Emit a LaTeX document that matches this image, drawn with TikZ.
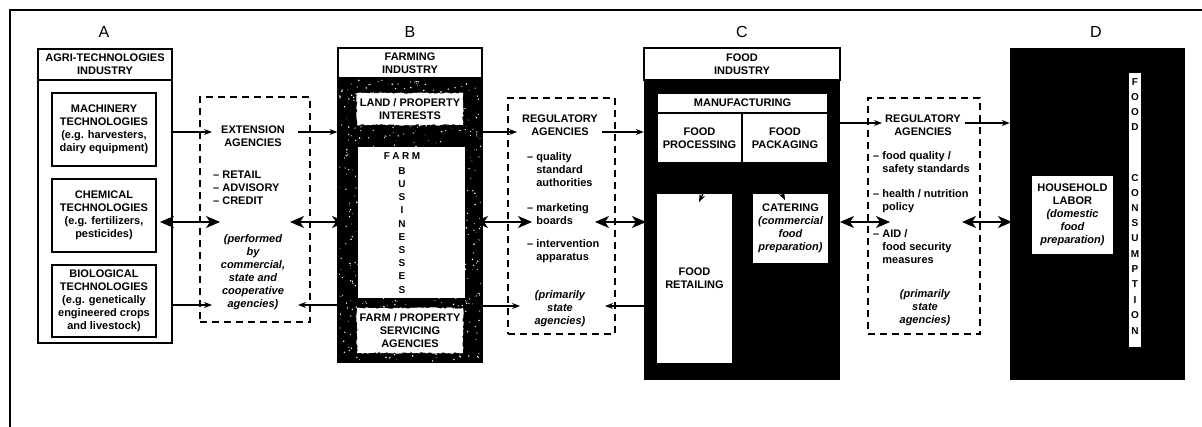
\documentclass[tikz,border=0pt]{standalone}
\usepackage{fontspec}
\setmainfont{Liberation Sans}
\usetikzlibrary{arrows.meta,decorations.pathmorphing,fit}
\begin{document}
\begin{tikzpicture}[x=1pt,y=-1pt,
  txt/.style={font=\fontsize{11}{13}\selectfont\bfseries, align=center, inner sep=0pt},
  itx/.style={font=\fontsize{11}{13}\selectfont\bfseries\itshape, align=center, inner sep=0pt},
  lst/.style={font=\fontsize{11}{13}\selectfont\bfseries, align=left, inner sep=0pt, anchor=west},
  vlet/.style={font=\fontsize{10}{10}\selectfont\bfseries, inner sep=0pt},
  letter/.style={font=\fontsize{16}{16}\selectfont, inner sep=0pt},
  wbox/.style={draw=black, fill=white, line width=1.1pt, inner sep=0pt},
  bbox/.style={fill=black, inner sep=0pt},
  dbox/.style={draw=black, dash pattern=on 7pt off 5pt, line width=1.3pt, inner sep=0pt},
  rough/.style={fill=white, decorate, decoration={random steps,segment length=2pt,amplitude=0.8pt}},
  sa/.style={line width=1.1pt, -{Stealth[length=8pt,width=6pt]}},
  da/.style={line width=1.1pt, {Stealth[length=14pt,width=12pt,inset=4pt]}-{Stealth[length=14pt,width=12pt,inset=4pt]}},
]
\useasboundingbox (0,0) rectangle (1202,427);
% outer frame
\coordinate (F1) at (10,427);
\coordinate (F2) at (10,10);
\coordinate (F3) at (1202,10);
\draw[line width=1.1pt] (F1) -- (F2) -- (F3);

% column letters
\node[letter] (LA) at (104,32) {A};
\node[letter] (LB) at (410,32) {B};
\node[letter] (LC) at (742,32) {C};
\node[letter] (LD) at (1096,32) {D};

% ---------- Column A
\node[wbox, fit={(38,49)(172,343)}] (Aout) {};
\node[wbox, fit={(38,49)(172,80)}] (Atit) {};
\node[txt] (AtitT) at (Atit.center) {AGRI-TECHNOLOGIES\\INDUSTRY};
\node[wbox, fit={(52,93)(156,166)}] (Amach) {};
\node[txt] (AmachT) at (Amach.center) {MACHINERY\\TECHNOLOGIES\\(e.g. harvesters,\\dairy equipment)};
\node[wbox, fit={(52,179)(156,252)}] (Achem) {};
\node[txt] (AchemT) at (Achem.center) {CHEMICAL\\TECHNOLOGIES\\(e.g. fertilizers,\\pesticides)};
\node[wbox, fit={(52,265)(156,337)}] (Abio) {};
\node[txt] (AbioT) at (Abio.center) {BIOLOGICAL\\TECHNOLOGIES\\(e.g. genetically\\engineered crops\\and livestock)};

% ---------- Column B
\node[wbox, fit={(338,48)(482,362)}] (Bout) {};
\fill[black] (338,78) rectangle (482,362);
\pgfmathsetseed{42}
\foreach \i in {1,...,700}{%
  \pgfmathsetmacro\sx{339+142*rnd}%
  \pgfmathsetmacro\sy{80+281*rnd}%
  \pgfmathsetmacro\sr{0.3+0.6*rnd}%
  \fill[white] (\sx,\sy) circle[radius=\sr pt];}
\node[wbox, fit={(338,48)(482,78)}] (Btit) {};
\node[txt] (BtitT) at (Btit.center) {FARMING\\INDUSTRY};
\fill[rough] (357,93) rectangle (463,125);
\node[txt] (Bland) at (410,109) {LAND / PROPERTY\\INTERESTS};
\node[fill=white, inner sep=0pt, fit={(358,147)(465,298)}] (Bfarm) {};
\node[vlet] (BfarmT) at (402,156) {F\hspace{2.5pt}A\hspace{2.5pt}R\hspace{2.5pt}M};
\foreach \l/\yy [count=\k] in {B/171,U/184,S/197,I/210,N/224,E/237,S/250,S/263,E/276,S/290}{
  \node[vlet] (Bv\k) at (402,\yy) {\l};}
\fill[rough] (357,308) rectangle (463,353);
\node[txt] (Bserv) at (410,330.5) {FARM / PROPERTY\\SERVICING\\AGENCIES};

% ---------- Column C
\node[bbox, fit={(644,48)(840,380)}] (Cout) {};
\node[wbox, fit={(644,48)(840,80)}] (Ctit) {};
\node[txt] (CtitT) at (Ctit.center) {FOOD\\INDUSTRY};
\node[wbox, fit={(657,93)(828,113)}] (Cman) {};
\node[txt] (CmanT) at (Cman.center) {MANUFACTURING};
\node[wbox, fit={(657,113)(742,163)}] (Cproc) {};
\node[txt] (CprocT) at (Cproc.center) {FOOD\\PROCESSING};
\node[wbox, fit={(742,113)(828,163)}] (Cpack) {};
\node[txt] (CpackT) at (Cpack.center) {FOOD\\PACKAGING};
\node[fill=white, inner sep=0pt, fit={(657,194)(732,363)}] (Cret) {};
\node[txt] (CretT) at (Cret.center) {FOOD\\RETAILING};
\node[fill=white, inner sep=0pt, fit={(753,194)(828,263)}] (Ccat) {};
\node[txt] (CcatT) at (Ccat.center) {CATERING\\\itshape(commercial\\\itshape food\\\itshape preparation)};
\coordinate (cp1) at (716,166);
\coordinate (cp2) at (699,202);
\coordinate (cq1) at (768,166);
\coordinate (cq2) at (785,200);
\draw[sa] (cp1) -- (cp2);
\draw[sa] (cq1) -- (cq2);

% ---------- Column D
\node[bbox, fit={(1010,48)(1185,380)}] (Dout) {};
\node[fill=white, inner sep=0pt, fit={(1032,176)(1113,254)}] (Dhh) {};
\node[txt] (DhhT) at (Dhh.center) {HOUSEHOLD\\LABOR\\\itshape(domestic\\\itshape food\\\itshape preparation)};
\node[fill=white, inner sep=0pt, fit={(1129,73)(1141,347)}] (Dcons) {};
\foreach \l/\yy [count=\k] in {F/82,O/97,O/112,D/127,C/178,O/193,N/208,S/223,U/238,M/254,P/269,T/284,I/300,O/315,N/331}{
  \node[vlet] (Dv\k) at (1135,\yy) {\l};}

% ---------- Agency boxes
\node[dbox, fit={(200,97)(310,322)}] (E1) {};
\node[txt] (E1t) at (253,136.5) {EXTENSION\\AGENCIES};
\node[lst] (E1l) at (213,188) {– RETAIL\\– ADVISORY\\– CREDIT};
\node[itx] (E1i) at (253,272.5) {(performed\\by\\commercial,\\state and\\cooperative\\agencies)};

\node[dbox, fit={(508,98)(615,334)}] (R1) {};
\node[txt] (R1t) at (560,125.5) {REGULATORY\\AGENCIES};
\node[lst] (R1l1) at (527,170) {– quality\\\phantom{– }standard\\\phantom{– }authorities};
\node[lst] (R1l2) at (527,214.5) {– marketing\\\phantom{– }boards};
\node[lst] (R1l3) at (527,251.5) {– intervention\\\phantom{– }apparatus};
\node[itx] (R1i) at (560,308.5) {(primarily\\state\\agencies)};

\node[dbox, fit={(868,98)(980,334)}] (R2) {};
\node[txt] (R2t) at (923,125.5) {REGULATORY\\AGENCIES};
\node[lst] (R2l1) at (873,163.5) {– food quality /\\\phantom{– }safety standards};
\node[lst] (R2l2) at (873,201.5) {– health / nutrition\\\phantom{– }policy};
\node[lst] (R2l3) at (873,246.5) {– AID /\\\phantom{– }food security\\\phantom{– }measures};
\node[itx] (R2i) at (925,308) {(primarily\\state\\agencies)};

% ---------- Connectors row 1
\coordinate (r1) at (0,132);
\coordinate (r1b) at (0,123);
\coordinate (t1) at (212,132);
\coordinate (s2) at (298,132);
\coordinate (t3) at (517,132);
\coordinate (s4) at (602,132);
\coordinate (t5) at (882,123);
\coordinate (s6) at (965,123);
\draw[sa] (Aout.east |- r1) -- (t1);
\draw[sa] (s2) -- (Bout.west |- r1);
\draw[sa] (Bout.east |- r1) -- (t3);
\draw[sa] (s4) -- (Cout.west |- r1);
\draw[sa] (Cout.east |- r1b) -- (t5);
\draw[sa] (s6) -- (Dout.west |- r1b);

% row 2
\coordinate (u1a) at (160,222);
\coordinate (u1b) at (220,222);
\coordinate (u2a) at (290,222);
\coordinate (u2b) at (346,222);
\coordinate (u3a) at (474,222);
\coordinate (u3b) at (532,222);
\coordinate (u4a) at (595,222);
\coordinate (u4b) at (646,222);
\coordinate (u5a) at (840,222);
\coordinate (u5b) at (890,222);
\coordinate (u6a) at (962,222);
\coordinate (u6b) at (1012,222);
\draw[da] (u1a) -- (u1b);
\draw[da] (u2a) -- (u2b);
\draw[da] (u3a) -- (u3b);
\draw[da] (u4a) -- (u4b);
\draw[da] (u5a) -- (u5b);
\draw[da] (u6a) -- (u6b);

% row 3
\coordinate (r3) at (0,305);
\coordinate (v1) at (212,305);
\coordinate (v2) at (298,305);
\coordinate (v3) at (520,306);
\coordinate (v4) at (605,306);
\draw[sa] (Aout.east |- r3) -- (v1);
\draw[sa] (Bout.west |- r3) -- (v2);
\draw[sa] (Bout.east |- v3) -- (v3);
\draw[sa] (Cout.west |- v4) -- (v4);
\end{tikzpicture}
\end{document}
